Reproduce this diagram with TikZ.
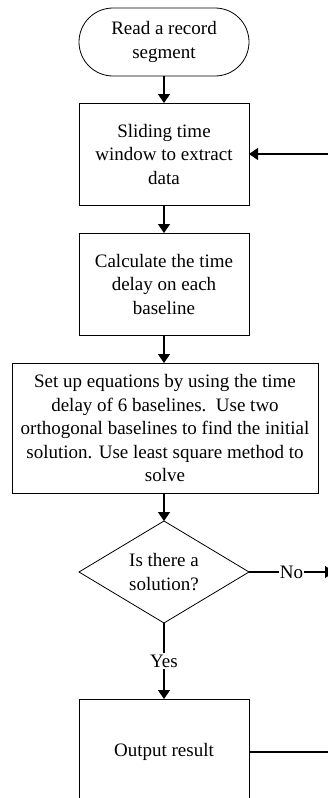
\documentclass[tikz,border=0pt]{standalone}
\usepackage{fontspec}
\setmainfont{Liberation Serif}
\usetikzlibrary{shapes.geometric,arrows.meta}
\begin{document}
\begin{tikzpicture}[x=1pt,y=-1pt,
  every node/.style={font=\fontsize{19}{23.5}\selectfont, align=center, inner sep=0pt, outer sep=0pt},
  box/.style={draw, line width=0.8pt, rectangle, minimum width=170pt, minimum height=102pt},
  term/.style={draw, line width=0.8pt, rectangle, rounded corners=34pt, minimum width=170pt, minimum height=68pt},
  dia/.style={draw, line width=0.8pt, diamond, aspect=1.667, minimum width=170pt, minimum height=102pt},
  conn/.style={line width=1.3pt, -{Triangle[width=12pt,length=9pt]}},
  lbl/.style={fill=white, inner xsep=1pt, inner ysep=2pt}]
\useasboundingbox (0,0) rectangle (327,798);
\node[term] (start) at (164,42) {Read a record\\segment};
\node[box] (win) at (164,154) {Sliding time\\window to extract\\data};
\node[box] (delay) at (164,284) {Calculate the time\\delay on each\\baseline};
\node[box, minimum width=306pt, minimum height=130pt] (eq) at (165,428) {Set up equations by using the time\\delay of 6 baselines.\ \ Use two\\orthogonal baselines to find the initial\\solution. Use least square method to\\solve};
\node[dia] (dec) at (164,572) {Is there a\\solution?};
\node[box, minimum height=106pt] (out) at (164,752) {Output result};
\coordinate (r1) at (334,752);
\coordinate (r2) at (334,154);
\coordinate (noend) at (334,572);
\draw[conn] (start) -- (win);
\draw[conn] (win) -- (delay);
\draw[conn] (delay.south) -- (delay.south |- eq.north);
\draw[conn] (dec.north |- eq.south) -- (dec.north);
\draw[conn] (dec.south) -- node[lbl]{Yes} (out.north);
\draw[conn] (dec.east) -- node[lbl]{No} (noend);
\draw[conn] (out.east) -- (r1) -- (r2) -- (win.east);
\end{tikzpicture}
\end{document}
